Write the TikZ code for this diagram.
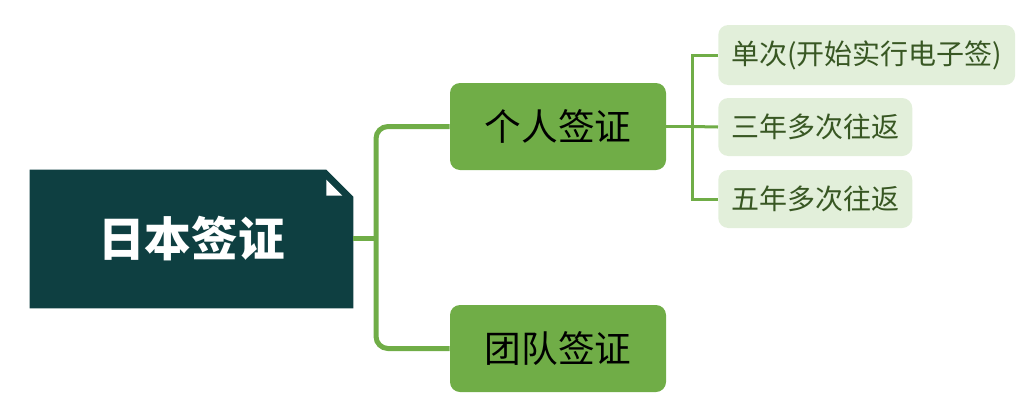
\documentclass[tikz,border=0pt]{standalone}
\usepackage{fontspec}
\setmainfont{Noto Sans CJK SC}
\usepackage{xcolor}
\usepackage{tikz}
\usetikzlibrary{positioning,calc}
\definecolor{rootteal}{HTML}{0E3F41}
\definecolor{branchgreen}{HTML}{70AD47}
\definecolor{leafgreen}{HTML}{E2EFDA}
\definecolor{leaftext}{HTML}{385723}

\begin{document}
\begin{tikzpicture}[
  x=0.75pt, y=-0.75pt,
  rootbox/.style={minimum width=242.25pt, minimum height=103.5pt, inner sep=0pt,
    align=center, text=white, font=\fontsize{35}{40}\selectfont\bfseries},
  topic/.style={fill=branchgreen, rounded corners=7.5pt, minimum width=162pt,
    minimum height=65.25pt, inner sep=0pt, font=\fontsize{27.5}{32}\selectfont},
  leaf/.style={fill=leafgreen, rounded corners=7.5pt, anchor=west, inner xsep=9.75pt,
    inner ysep=0pt, text=leaftext, font=\fontsize{21}{25}\selectfont},
  trunk/.style={draw=branchgreen, line width=3.75pt, rounded corners=9pt},
  twig/.style={draw=branchgreen, line width=2.25pt}
]
\useasboundingbox (0,0) rectangle (1022,408);

% root: dark box with its top-right corner folded
\node[rootbox] (root) at (191.5,239) {};
\fill[rootteal] (root.south west) -- (root.north west)
  -- ([xshift=-20.25pt]root.north east) -- ([yshift=-20.25pt]root.north east)
  -- (root.south east) -- cycle;
\fill[white] ([xshift=-20.25pt,yshift=-7.5pt]root.north east)
  -- ([xshift=-20.25pt,yshift=-19.5pt]root.north east)
  -- ([xshift=-8.25pt,yshift=-19.5pt]root.north east) -- cycle;
\node[rootbox] at (root.center) {日本签证};

\node[topic] (single) at (558,126.5) {个人签证};
\node[topic] (group) at (558,348.5) {团队签证};

\node[leaf, minimum height=45pt] (once) at (718,55) {单次(开始实行电子签)};
\node[leaf, minimum height=43.5pt] (three) at (718,127) {三年多次往返};
\node[leaf, minimum height=43.5pt] (five) at (718,199) {五年多次往返};

% trunk from the root to both topics
\coordinate (fork) at (376,238);
\draw[trunk] (root.east |- fork) -- (fork);
\draw[trunk] (single.west) -| (fork) |- (group.west);

% twigs from the personal visa to its three kinds
\coordinate (split) at (692,126.5);
\draw[twig] (single.east) -- (split);
\draw[twig] (once.west) -| (split) |- (five.west);
\draw[twig] (split) -- (three.west);
\end{tikzpicture}
\end{document}
